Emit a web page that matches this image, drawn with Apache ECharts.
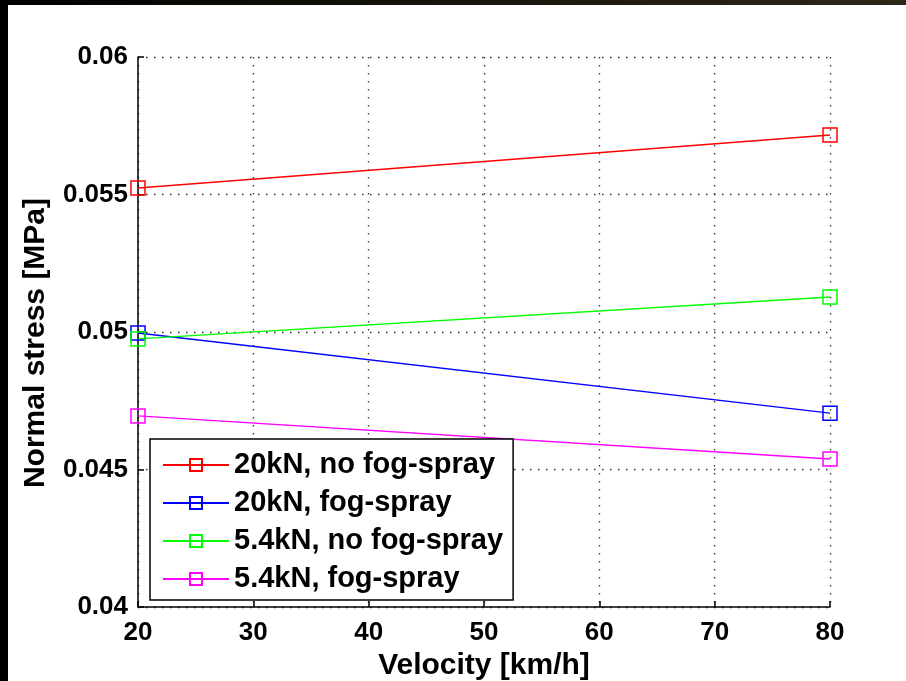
<!DOCTYPE html>
<html><head><meta charset="utf-8">
<script src="https://cdn.jsdelivr.net/npm/echarts@6/dist/echarts.min.js"></script>
<style>html,body{margin:0;padding:0;background:#fff}#c{width:906px;height:681px}</style>
</head><body><div id="c"></div>
<script>
const velocity = [20, 80];
const names = ['20kN, no fog-spray', '20kN, fog-spray', '5.4kN, no fog-spray', '5.4kN, fog-spray'];
const red20kNNoFog = [0.05524, 0.05716];
const blue20kNFog = [0.04996, 0.04705];
const green54kNNoFog = [0.04975, 0.05127];
const magenta54kNFog = [0.04695, 0.04538];
const colors = ['#ff0000', '#0000ff', '#00ff00', '#ff00ff'];
const xTicks = [20, 30, 40, 50, 60, 70, 80];
const yTicks = [0.04, 0.045, 0.05, 0.055, 0.06];

const seriesData = [red20kNNoFog, blue20kNFog, green54kNNoFog, magenta54kNFog];
const font = 'Liberation Sans, Arial, sans-serif';
const chart = echarts.init(document.getElementById('c'), null, {renderer: 'canvas'});
chart.setOption({
  animation: false,
  backgroundColor: '#fff',
  grid: {left: 138, right: 76, top: 57, bottom: 74, outerBoundsMode: 'none', containLabel: false},
  xAxis: {
    type: 'value', min: xTicks[0], max: xTicks[xTicks.length - 1], interval: 10,
    name: 'Velocity [km/h]', nameLocation: 'middle', nameGap: 41,
    nameTextStyle: {fontFamily: font, fontWeight: 'bold', fontSize: 30, color: '#000'},
    axisLine: {lineStyle: {color: '#000', width: 1.5}},
    axisTick: {inside: true, length: 6, lineStyle: {color: '#000', width: 1.5}},
    axisLabel: {fontFamily: font, fontWeight: 'bold', fontSize: 26, color: '#000', margin: 13},
    splitLine: {show: true, lineStyle: {color: '#333', type: [1.5, 6.5], width: 1.3}}
  },
  yAxis: {
    type: 'value', min: yTicks[0], max: yTicks[yTicks.length - 1], interval: 0.005,
    name: 'Normal stress [MPa]', nameLocation: 'middle', nameGap: 87, nameRotate: 90,
    nameTextStyle: {fontFamily: font, fontWeight: 'bold', fontSize: 30, color: '#000', padding: [0, 22, 0, 0]},
    axisLine: {lineStyle: {color: '#000', width: 1.5}},
    axisTick: {inside: true, length: 6, lineStyle: {color: '#000', width: 1.5}},
    axisLabel: {fontFamily: font, fontWeight: 'bold', fontSize: 26, color: '#000', margin: 10},
    splitLine: {show: true, lineStyle: {color: '#333', type: [1.5, 6.5], width: 1.3}}
  },
  legend: {
    orient: 'vertical', left: 150, top: 439,
    backgroundColor: '#fff', borderColor: '#000', borderWidth: 1.5, borderRadius: 0,
    padding: [11, 10, 6, 12], itemGap: 8, itemWidth: 66, itemHeight: 15,
    textStyle: {fontFamily: font, fontWeight: 'bold', fontSize: 29, color: '#000', lineHeight: 30},
    data: names
  },
  series: names.map((n, i) => ({
    name: n, type: 'line',
    data: velocity.map((v, j) => [v, seriesData[i][j]]),
    symbol: 'rect', symbolSize: 14,
    lineStyle: {color: colors[i], width: 1.5},
    itemStyle: {color: 'rgba(0,0,0,0)', borderColor: colors[i], borderWidth: 1.5}
  })),
  graphic: [
    {type: 'rect', left: 0, top: 0, shape: {width: 906, height: 5}, style: {fill: new echarts.graphic.LinearGradient(0, 0, 1, 0, [{offset: 0, color: '#000'}, {offset: 1, color: '#2e2818'}])}},
    {type: 'rect', left: 0, top: 0, shape: {width: 8, height: 681}, style: {fill: '#000'}}
  ]
});
</script></body></html>
